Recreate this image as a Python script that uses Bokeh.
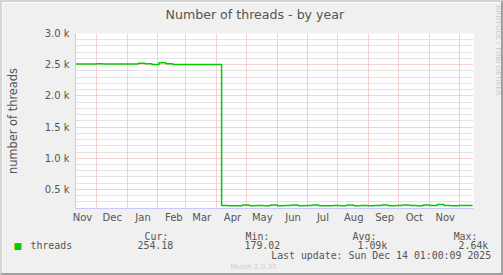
import pandas as pd
from bokeh.plotting import figure
from bokeh.models import (FixedTicker, ColumnDataSource, Range1d, CustomJSTickFormatter,
                          DatetimeTickFormatter, Title)
from bokeh.embed import file_html
from bokeh.resources import INLINE

# ---------------- data ----------------
title = "Number of threads - by year"
y_label = "number of threads"
series_name = "threads"
# weekly samples, starting 2024-11-10
dates = pd.date_range("2024-11-10", periods=58, freq="7D")
threads = [
    2510, 2510, 2510,                    # Nov 10..24
    2515, 2510, 2510, 2510, 2510,        # Dec
    2510, 2525, 2515, 2505,              # Jan
    2530, 2515, 2505, 2505,              # Feb
    2505, 2505, 2505, 2505, 2505,        # Mar
    245, 240, 240, 250,                  # Apr
    240, 245, 240, 250,                  # May
    240, 245, 250, 240, 245,             # Jun
    250, 240, 240, 245,                  # Jul
    240, 250, 240, 245, 240,             # Aug
    245, 250, 240, 245,                  # Sep
    250, 245, 240, 250,                  # Oct
    245, 260, 245, 240, 245,             # Nov
    245, 254,                            # Dec
]
y_ticks = [500, 1000, 1500, 2000, 2500, 3000]
y_minor = [200, 300, 400, 600, 700, 800, 900, 1100, 1200, 1300, 1400, 1600, 1700, 1800,
           1900, 2100, 2200, 2300, 2400, 2600, 2700, 2800, 2900]
month_starts = ["2024-12-01", "2025-01-01", "2025-02-01", "2025-03-01", "2025-04-01",
                "2025-05-01", "2025-06-01", "2025-07-01", "2025-08-01", "2025-09-01",
                "2025-10-01", "2025-11-01", "2025-12-01"]
month_label_pos = ["2024-11-17", "2024-12-17", "2025-01-17", "2025-02-17", "2025-03-17",
                   "2025-04-17", "2025-05-17", "2025-06-17", "2025-07-17", "2025-08-17",
                   "2025-09-17", "2025-10-17", "2025-11-17"]
x_start, x_end = "2024-11-10", "2025-12-15 12:00"
y_start, y_end = 195, 3000
stats_head = ["Cur:", "Min:", "Avg:", "Max:"]
stats_vals = ["254.18", "179.02", "1.09k", "2.64k"]
last_update = "Last update: Sun Dec 14 01:00:09 2025"
credit = "RRDTOOL / TOBI OETIKER"
version = "Munin 2.0.33"


def ms(s):
    return pd.Timestamp(s).timestamp() * 1000.0


# canvas is drawn inside a 2px css border -> canvas coords = image coords - 2
W, H = 503, 275
FL, FR, FT, FB = 70, 471, 31, 206
BG = "#F0F0F0"
TXT = "#555555"
AXC = "#c8c8ff"
GREEN = "#00cc00"
MONO = "DejaVu Sans Mono"
NB = "\u00a0"

p = figure(width=W, height=H, x_axis_type="datetime",
           output_backend="svg", toolbar_location=None,
           x_range=Range1d(ms(x_start), ms(x_end)), y_range=Range1d(y_start, y_end),
           min_border_left=FL, min_border_right=W - FR, min_border_top=FT,
           min_border_bottom=H - FB)
p.styles = {"border-top": "2px solid #d4d4d4", "border-left": "2px solid #d4d4d4",
            "border-right": "2px solid #a0a0a0", "border-bottom": "2px solid #a0a0a0"}
p.background_fill_color = "white"
p.border_fill_color = BG
p.outline_line_color = None
p.title.visible = False

# grids
p.ygrid.ticker = FixedTicker(ticks=y_ticks, minor_ticks=y_minor)
p.ygrid.grid_line_color = "#f0a0a0"
p.ygrid.grid_line_dash = "1 1"
p.ygrid.minor_grid_line_color = "#c8c8c8"
p.ygrid.minor_grid_line_dash = "1 1"
p.xgrid.ticker = FixedTicker(ticks=[ms(d) for d in month_starts])
p.xgrid.grid_line_color = "#f0a0a0"
p.xgrid.grid_line_dash = "1 1"

# axes
for ax in (p.xaxis[0], p.yaxis[0]):
    ax.axis_line_color = AXC
    ax.major_tick_line_color = None
    ax.minor_tick_line_color = None
    ax.major_tick_out = 0
    ax.major_tick_in = 0
    ax.minor_tick_out = 0
    ax.minor_tick_in = 0
    ax.major_label_text_color = TXT
    ax.major_label_text_font = "DejaVu Sans"
    ax.major_label_text_font_size = "10px"
p.xaxis.ticker = FixedTicker(ticks=[ms(d) for d in month_label_pos])
p.xaxis.formatter = DatetimeTickFormatter(days="%b", months="%b", years="%b")
p.xaxis.major_label_standoff = 3
p.yaxis.ticker = FixedTicker(ticks=y_ticks)
p.yaxis.formatter = CustomJSTickFormatter(code="return (tick/1000).toFixed(1) + ' k';")
p.yaxis.major_label_standoff = 6
p.yaxis.axis_label = y_label
p.yaxis.axis_label_text_font = "DejaVu Sans"
p.yaxis.axis_label_text_font_style = "normal"
p.yaxis.axis_label_text_font_size = "11.4px"
p.yaxis.axis_label_text_color = TXT
p.yaxis.axis_label_standoff = 22

# data
src = ColumnDataSource(dict(x=dates, y=threads))
p.step("x", "y", source=src, mode="after", line_color=GREEN, line_width=1.5)


def side_title(side, text, offset, standoff, size, font, color, valign="bottom"):
    p.add_layout(Title(text=text, align="left", offset=offset, standoff=standoff,
                       vertical_align=valign, text_font=font, text_font_size=size,
                       text_font_style="normal", text_color=color), side)


# title (above): spacer next to the frame, then the title text
side_title("above", NB, 0, 6.8, "1px", "DejaVu Sans", BG)
side_title("above", title, 90, 0, "12.6px", "DejaVu Sans", TXT, valign="top")

# credit (right, vertical): spacer, then the credit text
side_title("right", NB, 0, 15, "1px", "DejaVu Sans", BG)
side_title("right", credit, -28, 0, "7px", "DejaVu Sans", "#c8c8c8", valign="top")


def pad(parts, cols):
    s = ""
    for t, c in zip(parts, cols):
        s = s + NB * max(0, c - len(s)) + t
    return s


def below(text, offset, standoff, size="9.9px", font=MONO, color=TXT):
    side_title("below", text, offset, standoff, size, font, color)


below(pad(stats_head, [0, 17, 35, 52]), 69, 5.8)                       # header row
below(pad([series_name] + stats_vals, [0, 18, 36, 55, 72]), -45, -13.6)  # values row
below("\u25A0", -62, -13.6, size="9px", font="DejaVu Sans", color=GREEN)  # swatch
below(last_update, 195.7, 8.4)                                          # last update
below(version, 155, -10.2, size="7px", font="DejaVu Sans", color="#cccccc")

open("out.html", "w").write(file_html(p, INLINE))
